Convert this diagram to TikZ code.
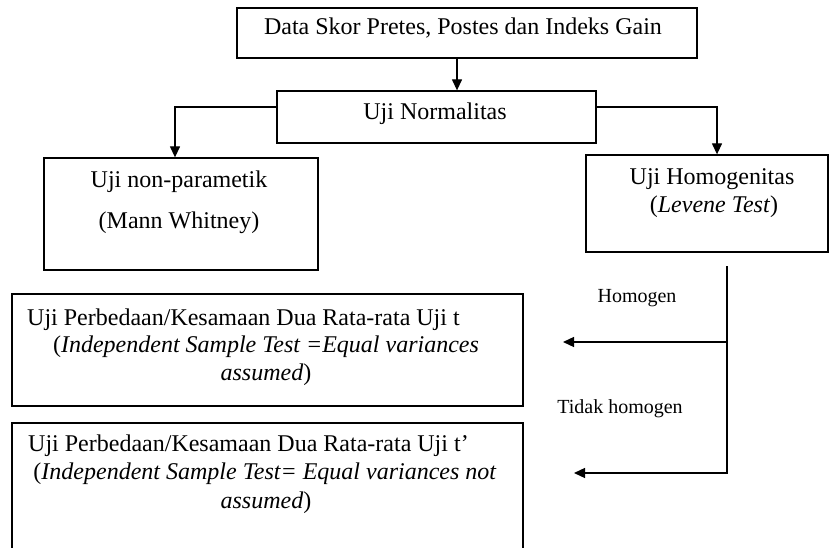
\documentclass[tikz,border=0pt]{standalone}
\usepackage{fontspec}
\setmainfont{Liberation Serif}
\usetikzlibrary{arrows.meta}
\begin{document}
\begin{tikzpicture}[x=1pt,y=-1pt,
  box/.style={draw=black, line width=1.3pt, rectangle, inner sep=0pt},
  txt/.style={anchor=base, inner sep=0pt, font=\fontsize{24}{28}\selectfont},
  lbl/.style={anchor=base, inner sep=0pt, font=\fontsize{20}{24}\selectfont},
  link/.style={draw=black, line width=1.3pt},
  arr/.style={link, -{Triangle[length=11pt,width=10pt]}}]
\useasboundingbox (0,0) rectangle (832,548);
\fill[white] (0,0) rectangle (832,548);
\clip (0,0) rectangle (832,548);

% boxes
\node[box, minimum width=460pt, minimum height=50pt]  (b1) at (467,33) {};
\node[box, minimum width=319pt, minimum height=52pt]  (b2) at (436.5,117) {};
\node[box, minimum width=274pt, minimum height=112pt] (b3) at (181,214) {};
\node[box, minimum width=242pt, minimum height=97pt]  (b4) at (707,203.5) {};
\node[box, minimum width=511pt, minimum height=112pt] (b5) at (267.5,350) {};
\node[box, minimum width=511pt, minimum height=147pt] (b6) at (267.5,496.5) {};

% texts
\node[txt] (t1)  at (463,35)  {Data Skor Pretes, Postes dan Indeks Gain};
\node[txt] (t2)  at (435,120) {Uji Normalitas};
\node[txt] (t3a) at (179,188) {Uji non-parametik};
\node[txt] (t3b) at (179,228) {(Mann Whitney)};
\node[txt] (t4a) at (712,185) {Uji Homogenitas};
\node[txt] (t4b) at (714,212) {(\textit{Levene Test})};
\node[txt, anchor=base west] (t5a) at (27,325) {Uji Perbedaan/Kesamaan Dua Rata-rata Uji t};
\node[txt] (t5b) at (266,352) {(\textit{Independent Sample Test =Equal variances}};
\node[txt] (t5c) at (266,380) {\textit{assumed})};
\node[txt, anchor=base west] (t6a) at (28,451) {Uji Perbedaan/Kesamaan Dua Rata-rata Uji t’};
\node[txt] (t6b) at (265,479) {(\textit{Independent Sample Test= Equal variances not}};
\node[txt] (t6c) at (266,508) {\textit{assumed})};
\node[lbl] (l1) at (637,302) {Homogen};
\node[lbl] (l2) at (620,413) {Tidak homogen};

% connectors
\draw[arr] ([xshift=-10pt]b1.south) -- ([xshift=-10pt]b1.south |- b2.north);
\draw[arr] ([yshift=10pt]b2.west) -| ([xshift=-6pt]b3.north);
\draw[arr] ([yshift=10pt]b2.east) -| ([xshift=10pt]b4.north);

\coordinate (split) at (727,266);
\coordinate (j1) at (727,342);
\coordinate (h1) at (563,342);
\coordinate (h2) at (574,473);
\draw[arr] (split) |- (h2);
\draw[arr] (j1) -- (h1);
\end{tikzpicture}
\end{document}
